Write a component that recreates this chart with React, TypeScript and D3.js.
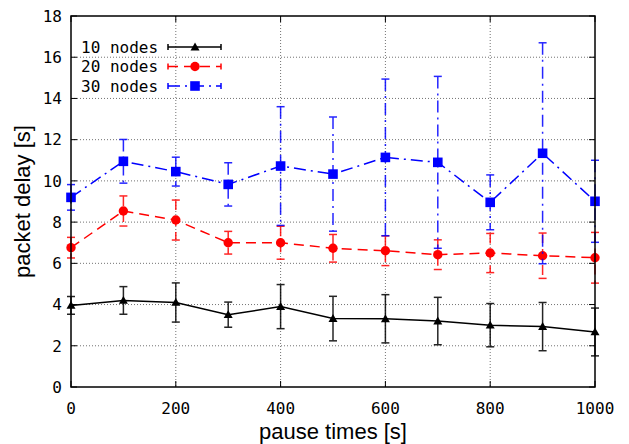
import React from 'react';
import * as d3 from 'd3';

// pause time (s) on x, mean packet delay (s) with +/- error
const pauseTimes = [0, 100, 200, 300, 400, 500, 600, 700, 800, 900, 1000];

const delay10 = [3.96, 4.2, 4.1, 3.51, 3.9, 3.32, 3.31, 3.2, 3.0, 2.93, 2.67];
const err10 = [0.43, 0.67, 0.95, 0.61, 1.07, 1.08, 1.17, 1.15, 1.05, 1.17, 1.16];

const delay20 = [6.76, 8.54, 8.1, 7.0, 7.0, 6.73, 6.61, 6.42, 6.5, 6.37, 6.27];
const err20 = [0.5, 0.73, 0.97, 0.55, 0.8, 0.67, 0.72, 0.72, 0.95, 1.1, 1.23];

const delay30 = [9.2, 10.95, 10.45, 9.83, 10.72, 10.33, 11.14, 10.9, 8.96, 11.34, 9.01];
const err30 = [0.62, 1.06, 0.7, 1.05, 2.88, 2.77, 3.8, 4.17, 1.33, 5.36, 1.99];

const xTicks = [0, 200, 400, 600, 800, 1000];
const yTicks = [0, 2, 4, 6, 8, 10, 12, 14, 16, 18];

const series = [
  { name: '10 nodes', values: delay10, errs: err10, color: '#000000', dash: 'none', marker: 'triangle' },
  { name: '20 nodes', values: delay20, errs: err20, color: '#ff0000', dash: '10,6', marker: 'circle' },
  { name: '30 nodes', values: delay30, errs: err30, color: '#0000ff', dash: '12,5,2,5', marker: 'square' },
];

const width = 629;
const height = 444;
const margin = { top: 16, right: 34, bottom: 57, left: 71 };
const monoFont = '"DejaVu Sans Mono", monospace';
const sansFont = '"Liberation Sans", Arial, sans-serif';

function Marker({ type, x, y, color }) {
  if (type === 'triangle') {
    const s = 4.5;
    return <path d={`M${x},${y - s}L${x + s},${y + s * 0.75}L${x - s},${y + s * 0.75}Z`} fill={color} />;
  }
  if (type === 'circle') return <circle cx={x} cy={y} r={4.7} fill={color} />;
  return <rect x={x - 4.8} y={y - 4.8} width={9.6} height={9.6} fill={color} />;
}

export default function App() {
  const innerW = width - margin.left - margin.right;
  const innerH = height - margin.top - margin.bottom;

  const x = d3.scaleLinear().domain([0, 1000]).range([margin.left, margin.left + innerW]);
  const y = d3.scaleLinear().domain([0, 18]).range([margin.top + innerH, margin.top]);

  const line = d3
    .line<number>()
    .x((_, i) => x(pauseTimes[i]))
    .y((d) => y(d));

  const left = margin.left;
  const right = margin.left + innerW;
  const top = margin.top;
  const bottom = margin.top + innerH;

  return (
    <svg width={width} height={height} style={{ position: 'absolute', left: 0, top: 0, background: '#fff' }}>
      {/* grid */}
      <g stroke="#000" strokeWidth={1} strokeDasharray="1,2" opacity={0.55}>
        {yTicks.slice(1, -1).map((t) => (
          <line key={'gy' + t} x1={left} x2={right} y1={y(t)} y2={y(t)} />
        ))}
        {xTicks.slice(1, -1).map((t) => (
          <line key={'gx' + t} x1={x(t)} x2={x(t)} y1={top} y2={bottom} />
        ))}
      </g>

      {/* tick marks on all four sides */}
      <g stroke="#000" strokeWidth={1}>
        {yTicks.map((t) => (
          <g key={'ty' + t}>
            <line x1={left} x2={left + 6} y1={y(t)} y2={y(t)} />
            <line x1={right} x2={right - 6} y1={y(t)} y2={y(t)} />
          </g>
        ))}
        {xTicks.map((t) => (
          <g key={'tx' + t}>
            <line x1={x(t)} x2={x(t)} y1={bottom} y2={bottom - 6} />
            <line x1={x(t)} x2={x(t)} y1={top} y2={top + 6} />
          </g>
        ))}
      </g>

      {/* tick labels */}
      <g fontFamily={monoFont} fontSize={16} fill="#000">
        {yTicks.map((t) => (
          <text key={'ly' + t} x={left - 9} y={y(t)} dy="0.36em" textAnchor="end">
            {t}
          </text>
        ))}
        {xTicks.map((t) => (
          <text key={'lx' + t} x={x(t)} y={bottom + 27} textAnchor="middle">
            {t}
          </text>
        ))}
      </g>

      {/* series */}
      {series.map((s) => (
        <g key={s.name}>
          <path d={line(s.values) || ''} fill="none" stroke={s.color} strokeWidth={1.5} strokeDasharray={s.dash} />
          {s.values.map((v, i) => {
            const cx = x(pauseTimes[i]);
            const y1 = y(v + s.errs[i]);
            const y2 = y(v - s.errs[i]);
            return (
              <g key={i} stroke={s.color} strokeWidth={1.5} opacity={0.85}>
                <line x1={cx} x2={cx} y1={y1} y2={y2} strokeDasharray={s.dash} />
                <line x1={cx - 4} x2={cx + 4} y1={y1} y2={y1} />
                <line x1={cx - 4} x2={cx + 4} y1={y2} y2={y2} />
              </g>
            );
          })}
          {s.values.map((v, i) => (
            <Marker key={'m' + i} type={s.marker} x={x(pauseTimes[i])} y={y(v)} color={s.color} />
          ))}
        </g>
      ))}

      {/* legend */}
      {series.map((s, i) => {
        const ly = 47 + i * 19.5;
        return (
          <g key={'leg' + s.name}>
            <text x={81} y={ly} dy="0.36em" fontFamily={monoFont} fontSize={16} fill="#000">
              {s.name}
            </text>
            <g stroke={s.color} strokeWidth={1.5}>
              <line x1={168} x2={221} y1={ly} y2={ly} strokeDasharray={s.dash} />
              <line x1={168} x2={168} y1={ly - 3} y2={ly + 3} />
              <line x1={221} x2={221} y1={ly - 3} y2={ly + 3} />
            </g>
            <Marker type={s.marker} x={195} y={ly} color={s.color} />
          </g>
        );
      })}

      {/* frame */}
      <rect x={left} y={top} width={innerW} height={innerH} fill="none" stroke="#000" strokeWidth={1.5} />

      {/* axis titles */}
      <text x={(left + right) / 2} y={439} textAnchor="middle" fontFamily={sansFont} fontSize={22} fill="#000">
        pause times [s]
      </text>
      <text
        transform={`translate(30,${(top + bottom) / 2}) rotate(-90)`}
        textAnchor="middle"
        fontFamily={sansFont}
        fontSize={22}
        fill="#000"
      >
        packet delay [s]
      </text>
    </svg>
  );
}
